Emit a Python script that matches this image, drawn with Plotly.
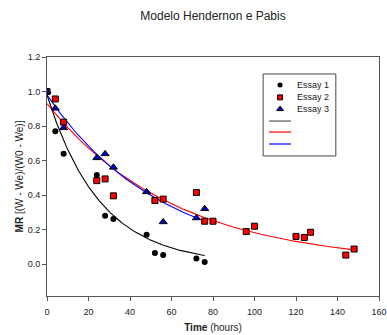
import numpy as np
import plotly.graph_objects as go

# Essay data (time in hours, MR)
t1 = [0, 4, 8, 24, 28, 32, 48, 52, 56, 72, 76]
mr1 = [1.0, 0.77, 0.64, 0.517, 0.28, 0.262, 0.17, 0.065, 0.053, 0.033, 0.013]

t2 = [0, 4, 8, 24, 28, 32, 52, 56, 72, 76, 80, 96, 100, 120, 124, 127, 144, 148]
mr2 = [1.0, 0.957, 0.823, 0.484, 0.494, 0.396, 0.369, 0.377, 0.415, 0.249, 0.249,
       0.189, 0.22, 0.161, 0.155, 0.185, 0.053, 0.088]

t3 = [0, 4, 8, 24, 28, 32, 48, 56, 72, 76]
mr3 = [1.0, 0.903, 0.79, 0.616, 0.639, 0.561, 0.419, 0.245, 0.268, 0.321]

# Henderson-Pabis fitted parameters MR = a*exp(-k t)
fit_a = [0.98, 0.93, 0.98]
fit_k = [0.039, 0.0163, 0.018]
fit_tmax = [76, 148, 76]
fit_colors = ["black", "red", "blue"]

series_names = ["Essay 1", "Essay 2", "Essay 3"]
marker_syms = ["circle", "square", "triangle-up"]
marker_cols = ["black", "red", "#0000cc"]
marker_sizes = [6, 6, 7]
marker_lw = [0, 1, 1]

FONT = "Liberation Sans, Arial, sans-serif"

fig = go.Figure()

for i in range(3):
    tt = np.linspace(0, fit_tmax[i], 200)
    fig.add_trace(go.Scatter(
        x=tt, y=fit_a[i] * np.exp(-fit_k[i] * tt), mode="lines",
        line=dict(color=fit_colors[i], width=1.1), showlegend=False))

for tx, ty, i in [(t1, mr1, 0), (t2, mr2, 1), (t3, mr3, 2)]:
    fig.add_trace(go.Scatter(
        x=tx, y=ty, mode="markers", name=series_names[i], showlegend=False,
        marker=dict(symbol=marker_syms[i], size=marker_sizes[i], color=marker_cols[i],
                    line=dict(color="black", width=marker_lw[i]))))

# ---- custom compact legend (overlay axes in 0..1 plot-area units) ----
leg_x0, leg_x1, leg_y0, leg_y1 = 0.651, 0.870, 0.586, 0.929
row_y = [0.883, 0.831, 0.782, 0.732, 0.686, 0.636]
sym_x = 0.702
line_x = [0.669, 0.735]
text_x = 0.748

fig.add_shape(type="rect", xref="x2", yref="y2", x0=leg_x0, x1=leg_x1,
              y0=leg_y0, y1=leg_y1, line=dict(color="#444", width=1),
              fillcolor="white", layer="below")
for i in range(3):
    fig.add_trace(go.Scatter(
        x=[sym_x], y=[row_y[i]], xaxis="x2", yaxis="y2", mode="markers",
        showlegend=False, hoverinfo="skip",
        marker=dict(symbol=marker_syms[i], size=marker_sizes[i] - 1, color=marker_cols[i],
                    line=dict(color="black", width=marker_lw[i]))))
    fig.add_annotation(x=text_x, y=row_y[i], xref="x2", yref="y2", text=series_names[i],
                       showarrow=False, xanchor="left", yanchor="middle",
                       font=dict(size=9, family=FONT, color="#222"))
    fig.add_trace(go.Scatter(
        x=line_x, y=[row_y[3 + i]] * 2, xaxis="x2", yaxis="y2", mode="lines",
        showlegend=False, hoverinfo="skip",
        line=dict(color=["#555", "red", "blue"][i], width=1.2)))

fig.update_layout(
    width=387, height=335,
    margin=dict(l=47, r=8, t=57, b=39),
    paper_bgcolor="white", plot_bgcolor="white",
    font=dict(family=FONT, size=9, color="#222"),
    showlegend=False,
    title=dict(text="Modelo Hendernon e Pabis", x=0.5, xref="paper",
               y=0.965, yref="container", xanchor="center",
               font=dict(size=12, family=FONT, color="#222")),
    xaxis=dict(range=[0, 160], tickvals=[0, 20, 40, 60, 80, 100, 120, 140, 160],
               showgrid=False, zeroline=False, showline=True, linecolor="#555",
               linewidth=1, mirror=True, ticks="outside", ticklen=4,
               tickcolor="#555", ticklabelstandoff=3, automargin=False,
               title=dict(text="<b>Time</b> (hours)", font=dict(size=10), standoff=8)),
    yaxis=dict(range=[-0.184, 1.2], tickvals=[0, 0.2, 0.4, 0.6, 0.8, 1.0, 1.2],
               tickformat=".1f", showgrid=False, zeroline=False, showline=True,
               linecolor="#555", linewidth=1, mirror=True, ticks="outside",
               ticklen=4, tickcolor="#555", automargin=False,
               title=dict(text="<b>MR</b> [(W - We)/(W0 - We)]", font=dict(size=10),
                          standoff=2)),
    xaxis2=dict(range=[0, 1], overlaying="x", visible=False, fixedrange=True),
    yaxis2=dict(range=[0, 1], overlaying="y", visible=False, fixedrange=True),
)

fig.write_html("out.html")
